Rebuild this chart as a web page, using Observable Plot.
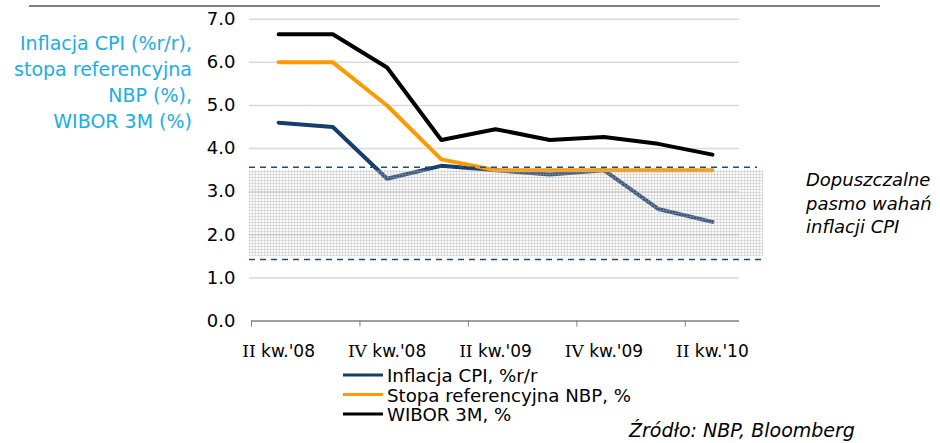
<!DOCTYPE html>
<html><head><meta charset="utf-8">
<script src="https://cdn.jsdelivr.net/npm/d3@7"></script>
<script src="https://cdn.jsdelivr.net/npm/@observablehq/plot@0.6"></script>
<style>
html,body{margin:0;padding:0;background:#fff;}
#chart svg{display:block;}
#chart g[aria-label^="x-axis"]{color:#7f7f7f;}
</style></head><body><div id="chart"></div>
<script>
// ---- data ----
const quarters = ["II kw.'08","III kw.'08","IV kw.'08","I kw.'09","II kw.'09","III kw.'09","IV kw.'09","I kw.'10","II kw.'10"];
const cpi   = [4.6, 4.5, 3.3, 3.6, 3.5, 3.4, 3.5, 2.6, 2.3];
const nbp   = [6.0, 6.0, 5.0, 3.75, 3.5, 3.5, 3.5, 3.5, 3.5];
const wibor = [6.65, 6.65, 5.88, 4.2, 4.45, 4.2, 4.27, 4.11, 3.86];
const yTicks = [0, 1, 2, 3, 4, 5, 6, 7];
const xLabelIdx = [0, 2, 4, 6, 8];
const band = [{lo: 1.5, hi: 3.5}];
const seriesNames = ["Inflacja CPI, %r/r", "Stopa referencyjna NBP, %", "WIBOR 3M, %"];
const seriesColors = ["#173d6c", "#ff9900", "#000000"];
const titleLines = ["Inflacja CPI (%r/r),", "stopa referencyjna", "NBP (%),", "WIBOR 3M (%)"];
const noteLines = ["Dopuszczalne", "pasmo wahań", "inflacji CPI"];
const sourceText = "Źródło: NBP, Bloomberg";

const FONT = "'DejaVu Sans', Verdana, sans-serif";
const BANDFILL = "#eeeeee";
const rows = s => quarters.map((q, i) => ({i, q, v: s[i]}));

const plot = Plot.plot({
  width: 940, height: 443,
  marginLeft: 251, marginRight: 201, marginTop: 18.7, marginBottom: 122.4,
  style: {fontFamily: FONT, fontSize: "18px", background: "#fff", overflow: "visible"},
  x: {domain: [-0.5, quarters.length - 0.5], ticks: xLabelIdx.map(i => i - 0.5), tickFormat: () => "", tickSize: 6, label: null},
  y: {domain: [0, 7], ticks: yTicks, tickFormat: d3.format(".1f"), tickSize: 0, tickPadding: 16, label: null},
  marks: [
    Plot.ruleY(yTicks.filter(d => d > 0), {stroke: "#d9d9d9", strokeWidth: 1.5, insetLeft: -2}),
    Plot.ruleY([0], {stroke: "#7f7f7f", strokeWidth: 1.5}),
    Plot.line(rows(cpi),   {x: "i", y: "v", stroke: seriesColors[0], strokeWidth: 4, strokeLinejoin: "round"}),
    Plot.line(rows(nbp),   {x: "i", y: "v", stroke: seriesColors[1], strokeWidth: 4, strokeLinejoin: "round"}),
    Plot.line(rows(wibor), {x: "i", y: "v", stroke: seriesColors[2], strokeWidth: 4, strokeLinejoin: "round"}),
    Plot.rect(band, {y1: "lo", y2: "hi", fill: BANDFILL, insetLeft: -2, insetRight: -24}),
    Plot.ruleY(band, {y: "hi", dy: -3, stroke: "#1f4e79", strokeWidth: 1.5, strokeDasharray: "6,5", insetLeft: -2, insetRight: -18}),
    Plot.ruleY(band, {y: "lo", dy: 3, stroke: "#1f4e79", strokeWidth: 1.5, strokeDasharray: "6,5", insetLeft: -2, insetRight: -24}),
    Plot.text(xLabelIdx, {x: d => d, y: 0, text: d => quarters[d], dy: 30, fontSize: 17, fill: "#000"})
  ]
});

const svg = d3.select(plot);
const defs = svg.insert("defs", ":first-child");
const pat = defs.append("pattern").attr("id", "bandgrid").attr("width", 3).attr("height", 3).attr("patternUnits", "userSpaceOnUse");
pat.append("rect").attr("width", 3).attr("height", 3).attr("fill", "#e0e0e0").attr("fill-opacity", 0.18);
pat.append("path").attr("d", "M0,0.5H3M0.5,0V3").attr("stroke", "#a8a8a8").attr("stroke-opacity", 0.3).attr("stroke-width", 1).attr("fill", "none");
svg.selectAll("g").filter(function() { return this.getAttribute("fill") === BANDFILL; })
  .attr("fill", "url(#bandgrid)").selectAll("rect").attr("fill", "url(#bandgrid)");

// roman numerals in a serif face
svg.selectAll("text").filter(function() { return quarters.includes(this.textContent); }).each(function() {
  const t = this.textContent;
  const m = t.match(/^([IV]+)(.*)$/);
  if (!m) return;
  const el = d3.select(this);
  el.text(null);
  el.append("tspan").attr("font-family", "'DejaVu Serif', serif").text(m[1]);
  el.append("tspan").text(m[2]);
});

// top rule
svg.append("line").attr("x1", 29).attr("x2", 880).attr("y1", 6).attr("y2", 6).attr("stroke", "#808080").attr("stroke-width", 2);

// left title
const tt = svg.append("text").attr("text-anchor", "end").attr("fill", "#1aaee5").attr("font-size", 19).attr("font-family", FONT);
titleLines.forEach((s, k) => tt.append("tspan").attr("x", 192).attr("y", 50 + k * 26).text(s));

// right note
const nt = svg.append("text").attr("text-anchor", "start").attr("fill", "#000").attr("font-size", 18).attr("font-style", "italic").attr("font-family", FONT);
noteLines.forEach((s, k) => nt.append("tspan").attr("x", 806).attr("y", 186 + k * 23.5).text(s));

// legend
seriesNames.forEach((s, k) => {
  const y = 382 + k * 19.5;
  svg.append("line").attr("x1", 343).attr("x2", 383).attr("y1", y - 7).attr("y2", y - 7).attr("stroke", seriesColors[k]).attr("stroke-width", 3);
  svg.append("text").attr("text-anchor", "start").attr("x", 387).attr("y", y).attr("font-size", 18.2).attr("font-family", FONT).attr("fill", "#000").text(s);
});

// source
svg.append("text").attr("text-anchor", "start").attr("x", 629).attr("y", 437).attr("font-size", 19).attr("font-style", "italic").attr("font-family", FONT).attr("fill", "#000").text(sourceText);

document.getElementById("chart").appendChild(plot);
</script></body></html>
